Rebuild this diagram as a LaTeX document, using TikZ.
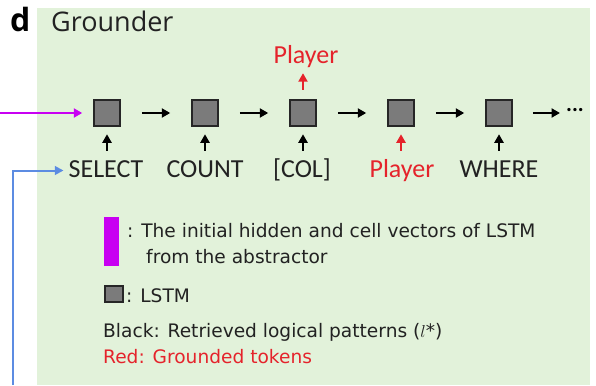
\documentclass[tikz,border=0pt]{standalone}
\usepackage{fontspec}
\setmainfont{Carlito}
\newfontfamily\legendfont{DejaVu Sans}
\newfontfamily\headfont{Open Sans}
\usetikzlibrary{arrows.meta,calc}
\definecolor{panelgreen}{HTML}{E2F2DA}
\definecolor{boxgray}{HTML}{7B7B7B}
\definecolor{tokred}{HTML}{E5232B}
\definecolor{initmag}{HTML}{C800F2}
\definecolor{linkblue}{HTML}{5C8CE2}
\definecolor{textblack}{HTML}{222222}
\tikzset{
  lstm/.style={draw=black!85, line width=2pt, fill=boxgray, minimum width=25.5pt, minimum height=26.5pt, inner sep=0pt},
  tok/.style={font=\fontsize{26}{30}\selectfont, inner sep=0pt, text height=18pt, text depth=5pt, anchor=base, text=textblack},
  redtok/.style={tok, text=tokred},
  arr/.style={line width=2.8pt, -{Triangle[width=9pt,length=8.5pt]}},
  legend/.style={font=\legendfont\fontsize{18.6}{27}\selectfont, inner sep=0pt, anchor=base west, text=textblack},
}
\begin{document}
\begin{tikzpicture}[x=1pt,y=-1pt]
\useasboundingbox (0,0) rectangle (596,385);
\fill[panelgreen] (37,8) rectangle (590,385);
\node[font=\headfont\bfseries\fontsize{32}{34}\selectfont, anchor=base west, inner sep=0pt] (dlab) at (10,32) {d};
\node[font=\headfont\fontsize{27}{30}\selectfont, anchor=base west, inner sep=0pt, text=textblack] (title) at (51,32) {Grounder};
% LSTM cells
\foreach \i/\x in {1/107,2/205,3/303,4/401,5/499}{
  \node[lstm] (b\i) at (\x,113) {};
}
\node[font=\fontsize{22}{24}\selectfont, anchor=west, inner sep=0pt] (ell) at (566,110) {\textbf{...}};
% tokens
\node[tok] (l1) at (106,177) {SELECT};
\node[tok] (l2) at (205,177) {COUNT};
\node[tok] (l3) at (302,177) {[COL]};
\node[redtok] (l4) at (402,177) {Player};
\node[tok] (l5) at (499,177) {WHERE};
\node[redtok] (out3) at (306,64) {Player};
% horizontal arrows
\foreach \a/\b in {1/2,2/3,3/4,4/5}{
  \draw[arr, shorten <=21pt, shorten >=21pt] (b\a) -- (b\b);
}
\draw[arr, shorten <=20pt, shorten >=6pt] (b5.east) -- (ell.west |- b5.east);
% vertical arrows
\foreach \i in {1,2,3,5}{
  \draw[arr, shorten <=8pt, shorten >=7pt] (l\i.north -| b\i.south) -- (b\i.south);
}
\draw[arr, tokred, shorten <=8pt, shorten >=7pt] (l4.north -| b4.south) -- (b4.south);
\draw[arr, tokred, shorten <=9pt, shorten >=4pt] (b3.north) -- (out3.south -| b3.north);
% magenta and blue inputs
\coordinate (magstart) at (0,113);
\draw[line width=2.5pt, initmag, -{Triangle[width=9pt,length=8.5pt]}, shorten >=11pt] (magstart) -- (b1.west);
\coordinate (bluestart) at (13,385);
\draw[line width=2pt, linkblue, -{Triangle[width=8.5pt,length=8.5pt]}, shorten >=5pt] (bluestart) |- (l1.west);
% legend
\fill[initmag] (104,217) rectangle (119,266);
\node[legend] (lg1) at (127,237) {: The initial hidden and cell vectors of LSTM};
\node[legend] (lg2) at (146,263) {from the abstractor};
\node[lstm, minimum width=18pt, minimum height=16pt, line width=1.7pt] (lgbox) at (114,294) {};
\node[legend] (lg3) at (126,302) {: LSTM};
\node[legend] (lg4) at (103,337) {Black: Retrieved logical patterns ($l$*)};
\node[legend, text=tokred] (lg5) at (103,363) {Red: Grounded tokens};
\end{tikzpicture}
\end{document}
